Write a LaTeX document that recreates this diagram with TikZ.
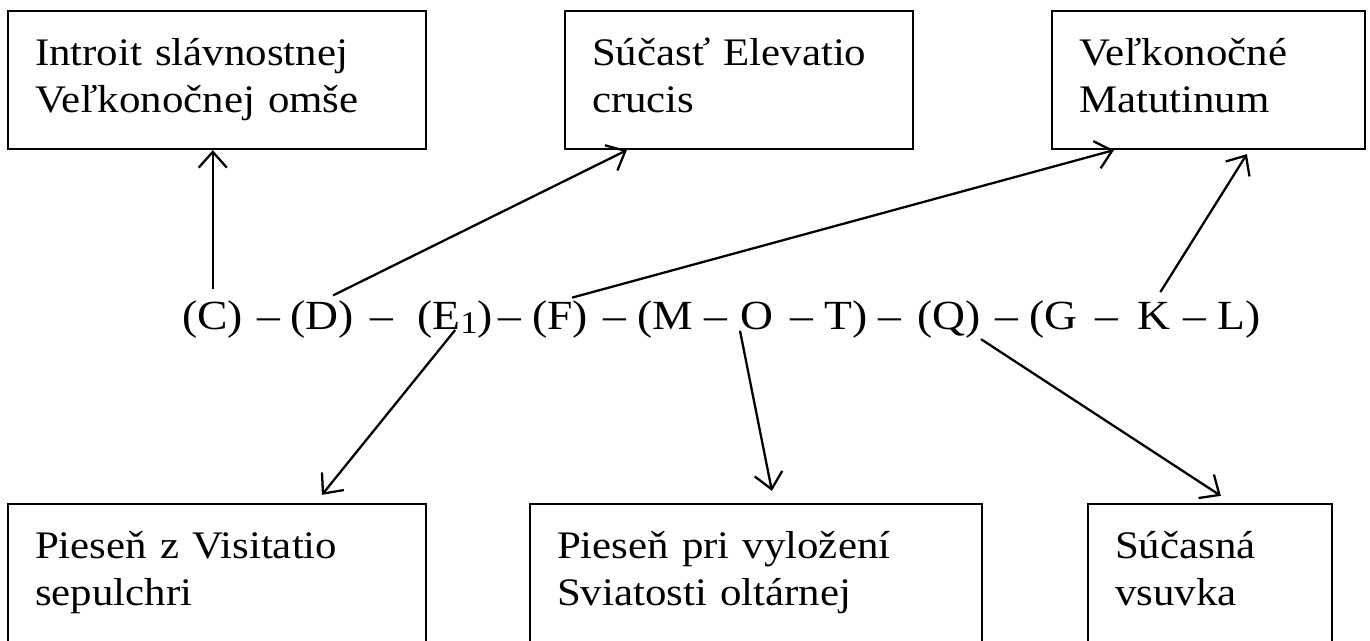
\documentclass[tikz,border=0pt]{standalone}
\usepackage{fontspec}
\setmainfont[FakeStretch=1.1]{Liberation Serif}
\usepackage{tikz}
\usetikzlibrary{arrows.meta, calc}

\newcommand{\boxfont}{\fontsize{22.2pt}{26.7pt}\selectfont}
\newcommand{\rowfont}{\fontsize{23.6pt}{28pt}\selectfont}
\newcommand{\eone}{(E\raisebox{-2pt}{\fontsize{18pt}{18pt}\selectfont 1})}

\begin{document}
\begin{tikzpicture}[
  x=0.02cm, y=-0.02cm,
  box/.style={
    draw, line width=1.3pt, minimum height=2.76cm,
    inner xsep=0.54cm, align=left, font=\boxfont,
    execute at begin node=\strut, execute at end node=\strut
  },
  tok/.style={anchor=base west, inner sep=0pt, font=\rowfont},
  arr/.style={-{Straight Barb[length=9pt, width=16pt]}, line width=1.3pt},
  up/.style={arr, shorten <=7pt}
]
  \useasboundingbox (0,0) rectangle (1370,641);

  % upper boxes
  \node[box, text width=7.28cm] (introit) at (217,80)
    {Introit slávnostnej\\Veľkonočnej omše};
  \node[box, text width=5.88cm] (elev) at (739,80)
    {Súčasť Elevatio\\crucis};
  \node[box, text width=5.18cm] (matut) at (1208.5,80)
    {Veľkonočné\\Matutinum};

  % lower boxes, cut by the page edge
  \node[box, text width=7.28cm] (visit) at (217,573)
    {Pieseň z Visitatio\\sepulchri};
  \node[box, text width=7.96cm] (song) at (756,573)
    {Pieseň pri vyložení\\Sviatosti oltárnej};
  \node[box, text width=3.80cm] (insert) at (1210,573)
    {Súčasná\\vsuvka};

  % the row of parts
  \node[tok] (c) at (182,330) {(C)};
  \node[tok] (n1) at (257,330) {--};
  \node[tok] (d) at (290,330) {(D)};
  \node[tok] (n2) at (370,330) {--};
  \node[tok] (e) at (417,330) {\eone};
  \node[tok] (n3) at (498,330) {--};
  \node[tok] (f) at (532,330) {(F)};
  \node[tok] (n4) at (603,330) {-- (M --};
  \node[tok] (o) at (740,330) {O};
  \node[tok] (n5) at (790,330) {-- T) --};
  \node[tok] (q) at (917,330) {(Q)};
  \node[tok] (n6) at (995,330) {-- (G\hspace{10pt}--};
  \node[tok] (k) at (1137,330) {K};
  \node[tok] (n7) at (1183,330) {-- L)};

  \draw[up] (c.north) -- (c.north |- introit.south);
  \draw[up] (d.north) -- ($(elev.south west)+(63,0)$);
  \draw[up] (f.north) -- ($(matut.south west)+(63,0)$);
  \draw[up] (k.north) -- ($(matut.south west)+(196,4)$);

  \draw[arr] (e.base) -- ($(visit.north west)+(315,-8)$);
  \draw[arr] (o.south west) -- ($(song.north west)+(243,-12)$);
  \draw[arr] (q.south east) -- ($(insert.north west)+(134,-7)$);
\end{tikzpicture}
\end{document}
